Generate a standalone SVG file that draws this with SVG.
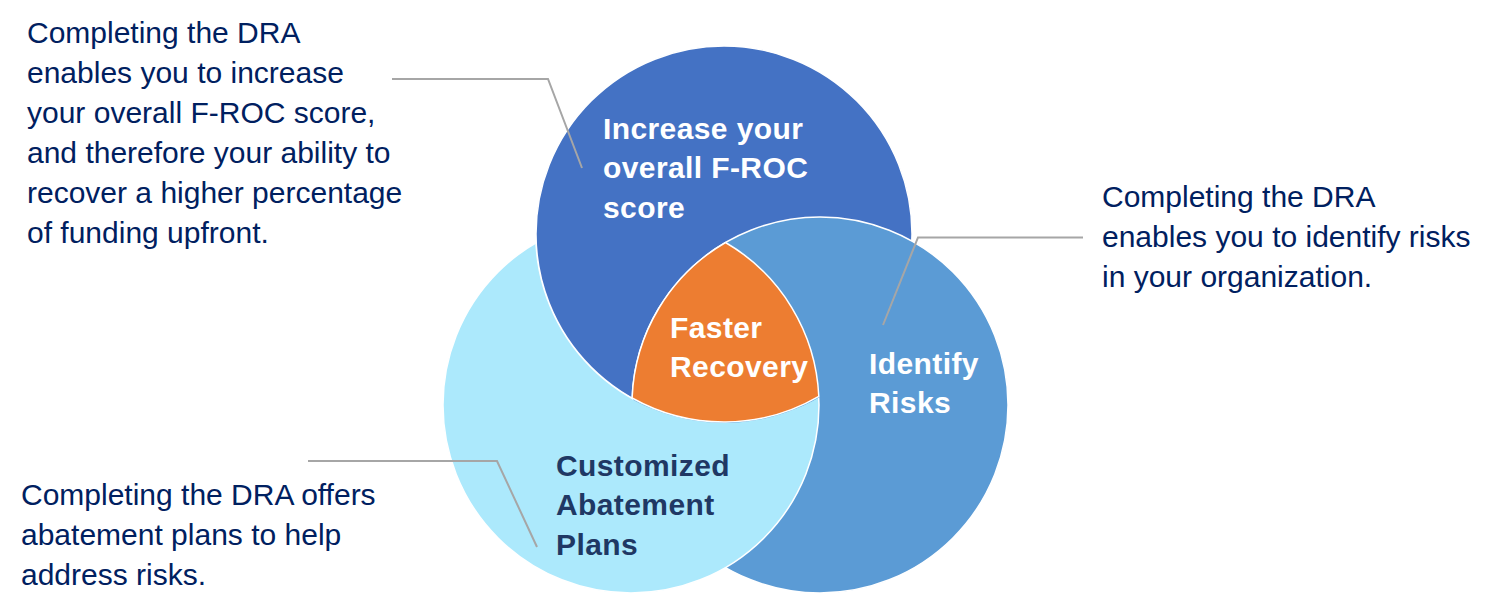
<svg xmlns="http://www.w3.org/2000/svg" width="1506" height="616" viewBox="0 0 1506 616">
<style>
.callout{font-family:"Liberation Sans",Arial,sans-serif;font-size:30px;fill:#002060}
.lbl{font-family:"Liberation Sans",Arial,sans-serif;font-size:30px;font-weight:bold;letter-spacing:0.4px}
.w{fill:#ffffff}
.navy{fill:#1F3864}
.circ{stroke:#ffffff;stroke-width:1.5}
.leader{fill:none;stroke:#A6A6A6;stroke-width:2}
</style>
<defs>
<mask id="notTop" maskUnits="userSpaceOnUse" x="0" y="0" width="1506" height="616">
<rect x="0" y="0" width="1506" height="616" fill="#ffffff"/>
<circle cx="724" cy="234" r="189" fill="#000000"/>
</mask>
</defs>
<rect x="0" y="0" width="1506" height="616" fill="#ffffff"/>

<g id="node-top">
<circle class="circ" cx="724" cy="234" r="188" fill="#4472C4"/>
<text class="lbl w" x="603" y="139">Increase your</text>
<text class="lbl w" x="603" y="178">overall F-ROC</text>
<text class="lbl w" x="603" y="218">score</text>
</g>

<g id="node-right">
<circle class="circ" cx="820" cy="405" r="188" fill="#5B9BD5"/>
<text class="lbl w" x="869" y="374">Identify</text>
<text class="lbl w" x="869" y="413">Risks</text>
</g>

<g id="node-left">
<circle class="circ" cx="631" cy="405" r="188" fill="#ACE9FC" mask="url(#notTop)"/>
<text class="lbl navy" x="556" y="476">Customized</text>
<text class="lbl navy" x="556" y="515">Abatement</text>
<text class="lbl navy" x="556" y="555">Plans</text>
</g>

<g id="node-center">
<path class="circ" fill="#ED7D31" d="M725.5,242.5 A188,188 0 0 0 632.1,398 A188,188 0 0 0 818.8,396.3 A188,188 0 0 0 725.5,242.5 Z"/>
<text class="lbl w" x="670" y="338">Faster</text>
<text class="lbl w" x="670" y="377">Recovery</text>
</g>

<g id="connectors">
<polyline class="leader" points="392,79 548,79 582,168"/>
<polyline class="leader" points="1083,237.5 918,237.5 883,325"/>
<polyline class="leader" points="308,461 497,461 537,547"/>
</g>

<g id="callout-top">
<text class="callout" x="27" y="43">Completing the DRA</text>
<text class="callout" x="27" y="83">enables you to increase</text>
<text class="callout" x="27" y="123">your overall F-ROC score,</text>
<text class="callout" x="27" y="163">and therefore your ability to</text>
<text class="callout" x="27" y="203">recover a higher percentage</text>
<text class="callout" x="27" y="243">of funding upfront.</text>
</g>

<g id="callout-right">
<text class="callout" x="1102" y="207">Completing the DRA</text>
<text class="callout" x="1102" y="247">enables you to identify risks</text>
<text class="callout" x="1102" y="287">in your organization.</text>
</g>

<g id="callout-bottom">
<text class="callout" x="21" y="505">Completing the DRA offers</text>
<text class="callout" x="21" y="545">abatement plans to help</text>
<text class="callout" x="21" y="585">address risks.</text>
</g>
</svg>
